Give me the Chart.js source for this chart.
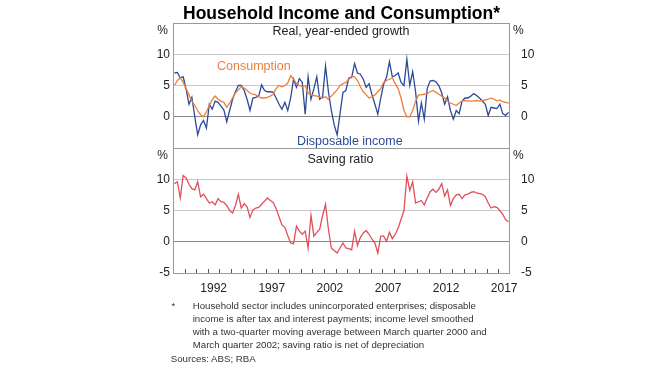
<!DOCTYPE html>
<html>
<head>
<meta charset="utf-8">
<script src="https://cdn.jsdelivr.net/npm/chart.js@4.4.0/dist/chart.umd.min.js"></script>
<style>
  body { margin: 0; background: #fff; font-family: "Liberation Sans", Arial, sans-serif; }
  #wrap { position: relative; width: 649px; height: 366px; overflow: hidden; }
  canvas { position: absolute; left: 0; top: 0; }
  .t { position: absolute; white-space: nowrap; line-height: 1; }
  .c { transform: translateX(-50%); }
</style>
</head>
<body>
<div id="wrap">
  <canvas id="topChart" width="649" height="150"></canvas>
  <canvas id="bottomChart" width="649" height="300"></canvas>

  <div class="t c" style="left:341.5px;top:4.5px;font-size:17.5px;font-weight:bold;color:#000">Household Income and Consumption*</div>
  <div class="t c" style="left:341px;top:25.4px;font-size:12.5px;color:#222">Real, year-ended growth</div>
  <div class="t" style="left:217px;top:60px;font-size:12.5px;color:#EE7F3B">Consumption</div>
  <div class="t" style="left:297px;top:135px;font-size:12.5px;color:#2C4A98">Disposable income</div>
  <div class="t c" style="left:340.5px;top:153.4px;font-size:12.5px;color:#222">Saving ratio</div>

  <div class="t" style="left:171.5px;top:299.4px;font-size:9.7px;line-height:13px;color:#333">*</div>
  <div class="t" style="left:192.7px;top:299.4px;font-size:9.7px;line-height:13px;color:#333">
    Household sector includes unincorporated enterprises; disposable<br>
    income is after tax and interest payments; income level smoothed<br>
    with a two-quarter moving average between March quarter 2000 and<br>
    March quarter 2002; saving ratio is net of depreciation
  </div>
  <div class="t" style="left:170.7px;top:351.8px;font-size:9.7px;line-height:13px;color:#333">Sources: ABS; RBA</div>
</div>

<script>
// 四半期データ（1989年3月期から）
const firstQuarter = 1989.125;

// 実質消費の前年比（%）
const consumption = [
  5.0, 5.8, 6.2, 5.5, 4.5, 3.5, 2.5, 1.8, 1.0, 0.3,
  0.0, 0.8, 1.8, 2.7, 3.3, 2.8, 2.5, 2.3, 1.5, 2.2,
  3.0, 3.8, 4.3, 4.8, 4.6, 4.2, 3.8, 3.6, 3.5, 3.2,
  3.0, 3.0, 3.1, 3.3, 3.6, 4.5, 5.0, 4.8, 5.0, 5.4,
  6.6, 6.0, 5.3, 5.0, 4.8, 5.0, 3.8, 3.5, 3.4, 3.3,
  3.2, 3.0, 3.2, 2.8, 3.3, 3.8, 4.3, 5.0, 5.3, 5.5,
  6.0, 6.5, 6.4, 5.8, 4.8, 4.0, 3.5, 3.0, 3.2, 3.5,
  4.0, 4.5, 5.5, 5.8, 6.0, 6.2, 5.3, 4.5, 3.0, 1.0,
  0.0, 0.0, 1.0, 2.5, 3.5, 3.5, 3.6, 3.7, 4.0, 4.2,
  3.9, 3.6, 3.3, 3.0, 2.5, 2.2, 2.0, 1.8, 2.2, 2.5,
  2.6, 2.5, 2.5, 2.5, 2.6, 2.5, 2.6, 2.7, 2.8, 3.0,
  2.8, 2.5, 2.7, 2.4, 2.3, 2.2
];

// 実質可処分所得の前年比（%）
const income = [
  7.0, 7.1, 6.2, 6.4, 4.4, 2.0, 3.1, 0.0, -2.9, -1.3,
  -0.6, -1.8, 2.0, 1.2, 2.5, 2.3, 1.7, 1.1, -0.8, 1.0,
  2.8, 4.0, 5.0, 5.0, 4.2, 2.8, 1.0, 3.0, 3.1, 3.3,
  5.1, 4.2, 4.0, 4.0, 3.9, 3.0, 2.0, 1.2, 2.3, 1.0,
  3.0, 6.0, 4.7, 6.1, 5.5, 0.4, 6.4, 2.8, 4.5, 6.4,
  2.8, 3.2, 8.1, 4.0, 1.0, -1.3, -2.9, 0.5, 3.9, 4.2,
  6.2, 6.3, 8.5, 7.0, 6.8, 6.0, 4.7, 5.3, 3.5, 2.0,
  0.4, 3.0, 5.2, 6.3, 8.8, 6.4, 6.6, 7.0, 5.5, 5.0,
  9.2, 5.0, 7.2, 4.0, -0.7, 2.2, -0.4, 4.5, 5.7, 5.8,
  5.6, 5.0, 3.8, 2.0, 3.2, 1.0, -0.4, 1.0, 0.5, 2.5,
  3.0, 3.0, 3.3, 3.7, 3.4, 3.0, 2.5, 2.0, 0.2, 1.5,
  1.4, 1.3, 2.0, 0.5, 0.2, 0.7
];

// 家計貯蓄率（%）
const saving = [
  9.3, 9.6, 7.0, 10.6, 10.2, 9.2, 8.5, 8.3, 9.6, 7.2,
  7.6, 6.9, 6.2, 6.4, 5.9, 6.9, 6.4, 6.3, 5.8, 5.0,
  4.6, 5.8, 7.6, 5.4, 6.1, 5.6, 3.9, 5.1, 5.4, 5.5,
  6.0, 6.5, 7.0, 6.6, 6.3, 5.3, 4.0, 2.7, 2.3, 1.0,
  -0.2, -0.3, 2.5, 1.7, 1.2, 1.7, -1.0, 4.2, 0.9, 1.5,
  2.0, 4.2, 6.0, 2.0, -1.0, -1.4, -1.8, -1.0, -0.2, -1.0,
  -1.1, -1.3, 1.7, -0.6, 0.7, 1.4, 1.8, 1.2, 0.4, -0.2,
  -1.8, 0.9, 0.9, 0.1, 1.5, 0.5, 1.2, 2.2, 3.6, 5.0,
  10.5, 8.2, 9.6, 6.2, 6.4, 6.6, 5.9, 7.0, 8.0, 8.4,
  7.9, 8.4, 9.3, 7.3, 8.3, 5.8, 6.9, 7.5, 7.6, 6.9,
  7.5, 7.6, 7.9, 8.0, 7.8, 7.7, 7.6, 7.2, 6.2, 5.4,
  5.6, 5.5, 5.0, 4.4, 3.5, 3.2
];

// 軸ラベル
const yearLabels = [1992, 1997, 2002, 2007, 2012, 2017];
const yTicks = [-5, 0, 5, 10, 15];

const ORANGE = '#EE7F3B';
const BLUE = '#2C4A98';
const RED = '#E0505A';
const GRID = '#C8C8C8';
const ZERO = '#8A8A8A';
const FRAME = '#9A9A9A';
const TXT = '#222';
const FONT = '"Liberation Sans", Arial, sans-serif';

Chart.defaults.font.family = FONT;
Chart.defaults.font.size = 12;
Chart.defaults.color = TXT;

const toPoints = arr => arr.map((v, i) => ({ x: firstQuarter + i * 0.25, y: v }));

// ラベル分の余白を消して枠の位置を固定する
function fixWidth(w) {
  return s => {
    s.width = w;
    s.paddingTop = 0;
    s.paddingBottom = 0;
  };
}

function leftAxis(isTop) {
  return {
    position: 'left', min: -5, max: 15,
    afterBuildTicks: s => { s.ticks = yTicks.map(v => ({ value: v })); },
    afterFit: fixWidth(173),
    border: { display: false },
    grid: {
      drawTicks: false,
      color: c => c.tick.value === 0 ? ZERO : (c.tick.value === 5 || c.tick.value === 10 ? GRID : 'rgba(0,0,0,0)')
    },
    ticks: {
      padding: 3,
      callback: v => (v === 15 || (isTop && v === -5)) ? '' : v
    }
  };
}

function rightAxis(isTop) {
  return {
    position: 'right', min: -5, max: 15,
    afterBuildTicks: s => { s.ticks = yTicks.map(v => ({ value: v })); },
    afterFit: fixWidth(649 - 510),
    border: { display: false },
    grid: { display: false },
    ticks: {
      padding: 3,
      callback: v => (v === 15 || (isTop && v === -5)) ? '' : v
    }
  };
}

// 枠線と「%」の表示
const framePlugin = {
  id: 'frame',
  afterDraw(chart) {
    const { ctx, chartArea: a } = chart;
    ctx.save();
    ctx.strokeStyle = FRAME;
    ctx.lineWidth = 1;
    ctx.strokeRect(a.left + 0.5, a.top + 0.5, a.right - a.left - 1, a.bottom - a.top);
    ctx.fillStyle = TXT;
    ctx.font = '12px ' + FONT;
    ctx.textBaseline = 'middle';
    ctx.textAlign = 'right';
    ctx.fillText('%', a.left - 5, a.top + 7.5);
    ctx.textAlign = 'left';
    ctx.fillText('%', a.right + 3, a.top + 7.5);
    ctx.restore();
  }
};

// 下段の年目盛り
const yearTickPlugin = {
  id: 'yearTicks',
  afterDraw(chart) {
    const { ctx, chartArea: a } = chart;
    const xs = chart.scales.x;
    ctx.save();
    ctx.strokeStyle = '#555';
    ctx.lineWidth = 1;
    ctx.beginPath();
    for (let y = 1990; y <= 2017; y++) {
      const px = Math.round(xs.getPixelForValue(y)) + 0.5;
      ctx.moveTo(px, a.bottom);
      ctx.lineTo(px, a.bottom - 4);
    }
    ctx.stroke();
    ctx.restore();
  }
};

const lineStyle = color => ({
  borderColor: color, borderWidth: 1.3, pointRadius: 0, tension: 0, fill: false
});

new Chart(document.getElementById('topChart'), {
  type: 'line',
  data: {
    datasets: [
      { label: 'Consumption', data: toPoints(consumption), ...lineStyle(ORANGE) },
      { label: 'Disposable income', data: toPoints(income), ...lineStyle(BLUE) }
    ]
  },
  options: {
    responsive: false, maintainAspectRatio: false, animation: false, events: [],
    layout: { padding: { top: 23, bottom: 2, left: 0, right: 0 } },
    plugins: { legend: { display: false }, tooltip: { enabled: false } },
    scales: {
      x: { type: 'linear', min: 1989, max: 2018, display: false },
      y: leftAxis(true),
      y2: rightAxis(true)
    }
  },
  plugins: [framePlugin]
});

new Chart(document.getElementById('bottomChart'), {
  type: 'line',
  data: {
    datasets: [
      { label: 'Saving ratio', data: toPoints(saving), ...lineStyle(RED) }
    ]
  },
  options: {
    responsive: false, maintainAspectRatio: false, animation: false, events: [],
    layout: { padding: { top: 148, bottom: 0, left: 0, right: 0 } },
    plugins: { legend: { display: false }, tooltip: { enabled: false } },
    scales: {
      x: {
        type: 'linear', min: 1989, max: 2018,
        afterBuildTicks: s => { s.ticks = yearLabels.map(y => ({ value: y + 0.5 })); },
        afterFit: s => { s.height = 300 - 273; s.paddingLeft = 0; s.paddingRight = 0; },
        border: { display: false },
        grid: { display: false },
        ticks: {
          autoSkip: false, maxRotation: 0, minRotation: 0, padding: 0,
          callback: v => String(Math.round(v - 0.5))
        }
      },
      y: leftAxis(false),
      y2: rightAxis(false)
    }
  },
  plugins: [framePlugin, yearTickPlugin]
});
</script>
</body>
</html>
